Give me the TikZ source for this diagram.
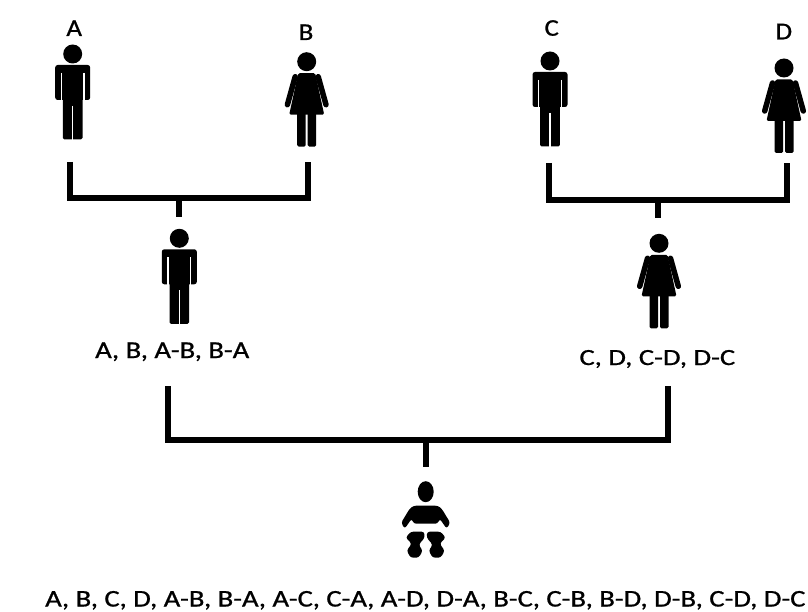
\documentclass[tikz,border=0pt]{standalone}
\usepackage{fontspec}
\setmainfont{Carlito}[FakeBold=0.8]
\usepackage{graphicx}
\tikzset{
  man/.pic={
    \fill (0,0) circle (9.5);
    \fill[rounded corners=2.5pt] (-17.5,11) rectangle (17.5,46);
    \fill[rounded corners=1.5pt] (-9.8,40) rectangle (9.8,85.5);
    \draw[white,line width=1.3pt] (-11.2,19) -- (-11.2,48);
    \draw[white,line width=1.3pt] (11.2,19) -- (11.2,48);
    \draw[white,line width=1.2pt] (0,52) -- (0,87);
  },
  woman/.pic={
    \fill (0,0) circle (9.5);
    \fill[rounded corners=1.5pt] (-8.5,11.5) -- (8.5,11.5) -- (17.5,53) -- (-17.5,53) -- cycle;
    \draw[line width=5.5pt,line cap=round] (11.5,15) -- (19.3,43);
    \draw[line width=5.5pt,line cap=round] (-11.5,15) -- (-19.3,43);
    \fill[rounded corners=1.5pt] (-9.5,50) rectangle (-1,85);
    \fill[rounded corners=1.5pt] (1,50) rectangle (9.5,85);
  },
  baby/.pic={
    \fill (0,0) ellipse [x radius=8, y radius=10.5];
    \fill[rounded corners=2.5pt] (-12,14) -- (12,14) -- (16,17) -- (24.5,31) -- (21,37) -- (14,27)
      -- (12,32) -- (-12,32) -- (-14,27) -- (-21,37) -- (-24.5,31) -- (-16,17) -- cycle;
    \fill[rounded corners=2.5pt] (-1.5,40) -- (-15,40) -- (-20,46) -- (-14,52) -- (-19,59) -- (-15,66)
      -- (-7,66) -- (-3,59) -- (-7,53) -- (-1,46) -- cycle;
    \fill[rounded corners=2.5pt] (1.5,40) -- (15,40) -- (20,46) -- (14,52) -- (19,59) -- (15,66)
      -- (7,66) -- (3,59) -- (7,53) -- (1,46) -- cycle;
  },
  bar/.style={line width=6pt, line join=miter},
  lbl/.style={inner sep=0pt, anchor=base},
  txt/.style={inner sep=0pt, anchor=base west},
}
\newcommand{\lbltext}[1]{\resizebox{!}{15.5pt}{\scalebox{1.12}[1]{#1}}}
\begin{document}
\begin{tikzpicture}[x=1pt,y=-1pt]
\useasboundingbox (0,0) rectangle (808,612);
\fill[white] (0,0) rectangle (808,612);

% labels of the grandparents
\node[lbl] (lA) at (74.2,36) {\lbltext{A}};
\node[lbl] (lB) at (306,40) {\lbltext{B}};
\node[lbl] (lC) at (551.7,35.7) {\lbltext{C}};
\node[lbl] (lD) at (783.8,39.3) {\lbltext{D}};

% figures
\pic (A) at (72.7,54) {man};
\pic (B) at (306.7,61.7) {woman};
\pic (C) at (550,61) {man};
\pic (D) at (784,68) {woman};
\pic (M1) at (179.3,238.3) {man};
\pic (M2) at (659,243.3) {woman};
\pic (K) at (425.7,491.7) {baby};

% connector points
\coordinate (A-b) at (70,162);
\coordinate (B-b) at (307.7,162);
\coordinate (jAB) at (179,198);
\coordinate (M1-t) at (179,217);
\coordinate (C-b) at (549.3,163);
\coordinate (D-b) at (787,163);
\coordinate (jCD) at (657.7,200);
\coordinate (M2-t) at (657.7,218);
\coordinate (M1-b) at (168,386);
\coordinate (M2-b) at (668,386);
\coordinate (jM) at (426,440);
\coordinate (K-t) at (426,467);

% brackets
\draw[bar] (A-b) |- (jAB) -| (B-b);
\draw[bar] (jAB) -- (M1-t);
\draw[bar] (C-b) |- (jCD) -| (D-b);
\draw[bar] (jCD) -- (M2-t);
\draw[bar] (M1-b) |- (jM) -| (M2-b);
\draw[bar] (jM) -- (K-t);

% inheritance texts
\node[txt] (tAB) at (95,358) {\resizebox{154pt}{15.5pt}{A, B, A-B, B-A}};
\node[txt] (tCD) at (579.3,365) {\resizebox{155.7pt}{15pt}{C, D, C-D, D-C}};
\node[txt] (tK) at (45,606.5) {\resizebox{760pt}{15.5pt}{A, B, C, D, A-B, B-A, A-C, C-A, A-D, D-A, B-C, C-B, B-D, D-B, C-D, D-C}};
\end{tikzpicture}
\end{document}
